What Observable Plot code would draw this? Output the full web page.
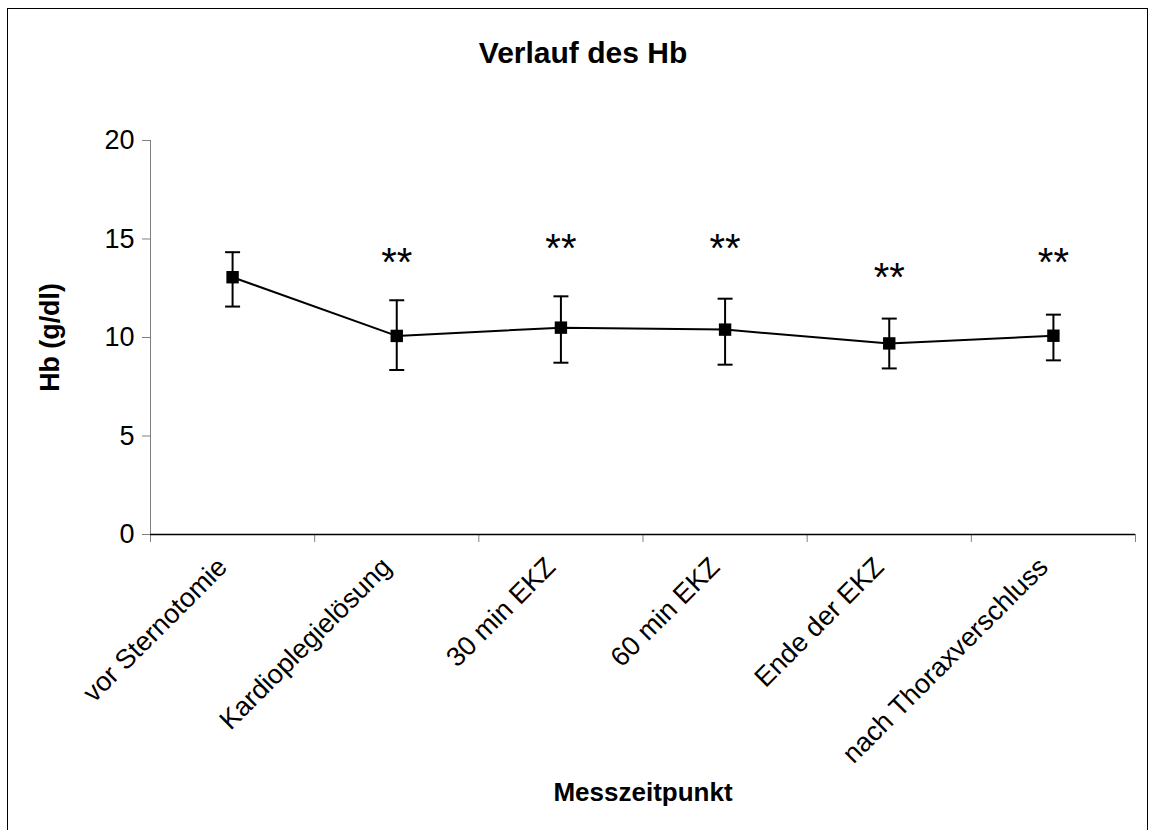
<!DOCTYPE html>
<html>
<head>
<meta charset="utf-8">
<script src="https://cdn.jsdelivr.net/npm/d3@7"></script>
<script src="https://cdn.jsdelivr.net/npm/@observablehq/plot@0.6"></script>
<style>
  html, body { margin: 0; padding: 0; background: #fff; }
  #wrap { position: relative; width: 1150px; height: 830px; overflow: hidden; font-family: "Liberation Sans", Arial, sans-serif; }
  #frame { position: absolute; left: 7px; top: 8px; width: 1141px; height: 840px; border: 1px solid #000; box-sizing: border-box; pointer-events: none; }
  #chart { position: absolute; left: 0; top: 0; }
</style>
</head>
<body>
<div id="wrap"><div id="chart"></div><div id="frame"></div></div>
<script>
// ---- data ----
const categories = ["vor Sternotomie", "Kardioplegielösung", "30 min EKZ", "60 min EKZ", "Ende der EKZ", "nach Thoraxverschluss"];
const meanHb  = [13.06, 10.08, 10.50, 10.40, 9.70, 10.09];
const upperHb = [14.33, 11.89, 12.09, 11.97, 10.96, 11.16];
const lowerHb = [11.57, 8.35, 8.72, 8.62, 8.43, 8.84];
const signif  = ["", "**", "**", "**", "**", "**"];
const signifY = [null, 13.75, 14.5, 14.5, 13.0, 13.75];
const yTicks  = [0, 5, 10, 15, 20];
const titleText = "Verlauf des Hb";
const yLabel = "Hb (g/dl)";
const xLabel = "Messzeitpunkt";

const data = categories.map((c, i) => ({
  cat: c, xi: i + 0.5, mean: meanHb[i], hi: upperHb[i], lo: lowerHb[i], star: signif[i], starY: signifY[i]
}));
const bounds = d3.range(categories.length + 1);
const centers = data.map(d => d.xi);

const capSymbol = {
  draw(context, size) {
    const r = Math.sqrt(size / Math.PI);
    context.moveTo(-r, 0);
    context.lineTo(r, 0);
  }
};

const font = "'Liberation Sans', Arial, sans-serif";

const chart = Plot.plot({
  width: 1150,
  height: 830,
  marginLeft: 150,
  marginRight: 15,
  marginTop: 140,
  marginBottom: 296,
  style: { fontFamily: font, background: "transparent", color: "black", overflow: "visible" },
  x: { type: "linear", domain: [0, categories.length] },
  y: { domain: [0, 20] },
  marks: [
    Plot.axisY({ ticks: yTicks, tickSize: 8, tickPadding: 8, fontSize: 27, stroke: "#808080", fill: "black", label: null }),
    Plot.axisX({ ticks: bounds, tickSize: 8, tickFormat: () => "", stroke: "#808080", label: null }),
    Plot.axisX({
      ticks: centers, tickSize: 0, tickPadding: 28, fontSize: 27, fill: "black",
      tickFormat: d => categories[Math.floor(d)], tickRotate: -45,
      textAnchor: "end", lineAnchor: "middle", dx: -10, label: null
    }),
    Plot.ruleX([0], { stroke: "#808080", strokeWidth: 1 }),
    Plot.ruleY([0], { stroke: "black", strokeWidth: 1.5 }),
    Plot.ruleX(data, { x: "xi", y1: "lo", y2: "hi", stroke: "black", strokeWidth: 2 }),
    Plot.dot(data, { x: "xi", y: "hi", symbol: capSymbol, r: 7.5, stroke: "black", strokeWidth: 2 }),
    Plot.dot(data, { x: "xi", y: "lo", symbol: capSymbol, r: 7.5, stroke: "black", strokeWidth: 2 }),
    Plot.line(data, { x: "xi", y: "mean", stroke: "black", strokeWidth: 2 }),
    Plot.dot(data, { x: "xi", y: "mean", symbol: "square", r: 7, fill: "black", stroke: "none" }),
    Plot.text(data.filter(d => d.star), { x: "xi", y: "starY", text: "star", fontSize: 40, lineAnchor: "middle", fill: "black" }),
    Plot.text([titleText], { frameAnchor: "top", textAnchor: "middle", dx: -60, dy: -87, fontSize: 30, fontWeight: "bold", lineAnchor: "middle", fill: "black" }),
    Plot.text([yLabel], { frameAnchor: "left", textAnchor: "middle", dx: -100, rotate: -90, fontSize: 26.8, fontWeight: "bold", lineAnchor: "middle", fill: "black" }),
    Plot.text([xLabel], { frameAnchor: "bottom", textAnchor: "middle", dy: 258, fontSize: 26, fontWeight: "bold", lineAnchor: "middle", fill: "black" })
  ]
});
document.getElementById("chart").appendChild(chart);
</script>
</body>
</html>
